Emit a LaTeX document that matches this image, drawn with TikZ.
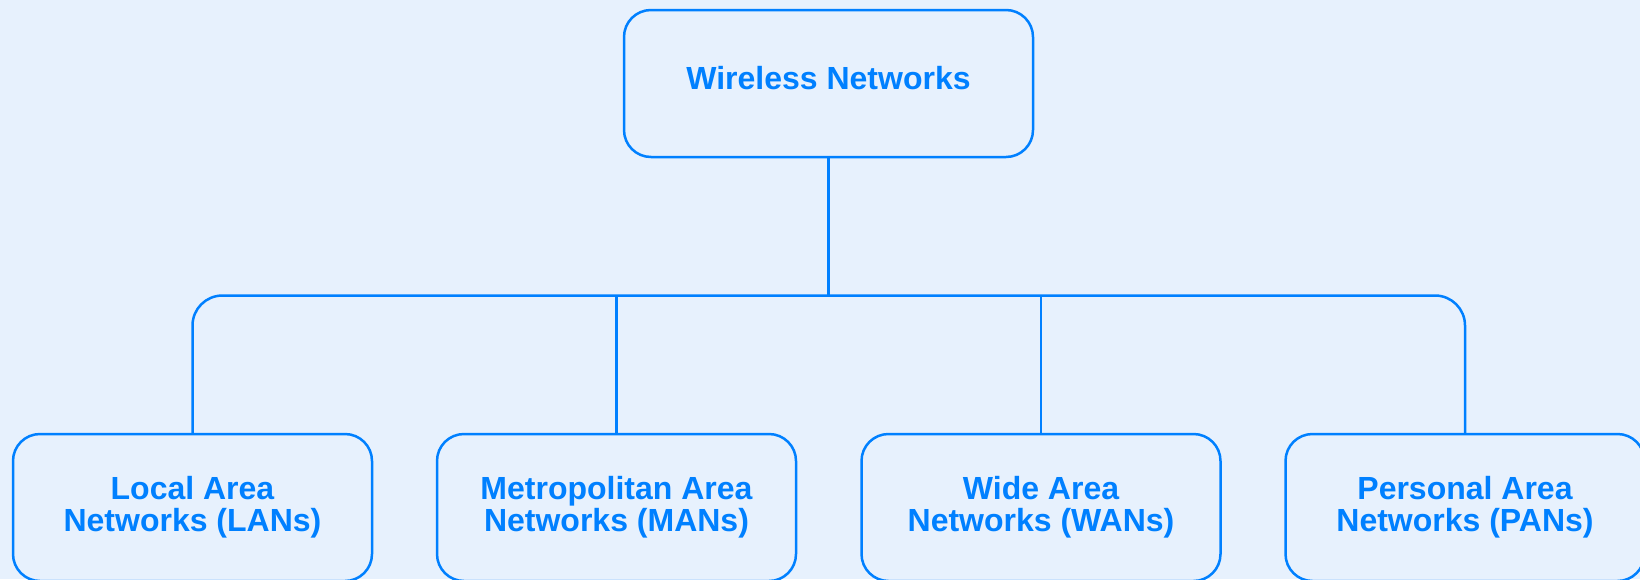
\documentclass[tikz,border=0pt]{standalone}
\usepackage{fontspec}
\setmainfont{Liberation Sans}
\usetikzlibrary{calc}
\definecolor{bg}{RGB}{231,241,253}
\definecolor{fg}{RGB}{0,128,255}
\tikzset{
  box/.style={draw=fg, line width=2.5pt, rounded corners=27pt, fill=bg,
    text=fg, font=\bfseries\fontsize{32}{32}\selectfont, align=center,
    inner sep=0pt},
  topbox/.style={box, minimum width=409pt, minimum height=147pt, text depth=11pt},
  leafbox/.style={box, minimum width=359pt, minimum height=147pt},
  wire/.style={draw=fg, line width=2.5pt},
}
\begin{document}
\begin{tikzpicture}[x=1pt,y=-1pt]
\useasboundingbox[fill=bg] (0,0) rectangle (1640,579);
\clip (0,0) rectangle (1640,579);
\node[topbox] (top) at (828.5,83.5) {Wireless Networks};
\node[leafbox] (lan) at (192.5,507.5) {Local Area\\Networks (LANs)};
\node[leafbox] (man) at (616.5,507.5) {Metropolitan Area\\Networks (MANs)};
\node[leafbox] (wan) at (1041,507.5) {Wide Area\\Networks (WANs)};
\node[leafbox] (pan) at (1465,507.5) {Personal Area\\Networks (PANs)};
\coordinate (bus) at ($(top.south)!0.5!(lan.north)$);
\draw[wire, rounded corners=30pt] (lan.north) -- (lan.north |- bus) -- (pan.north |- bus) -- (pan.north);
\draw[wire] (top.south) -- (top.south |- bus);
\draw[wire] (man.north) -- (man.north |- bus);
\draw[wire] (wan.north) -- (wan.north |- bus);
\end{tikzpicture}
\end{document}
